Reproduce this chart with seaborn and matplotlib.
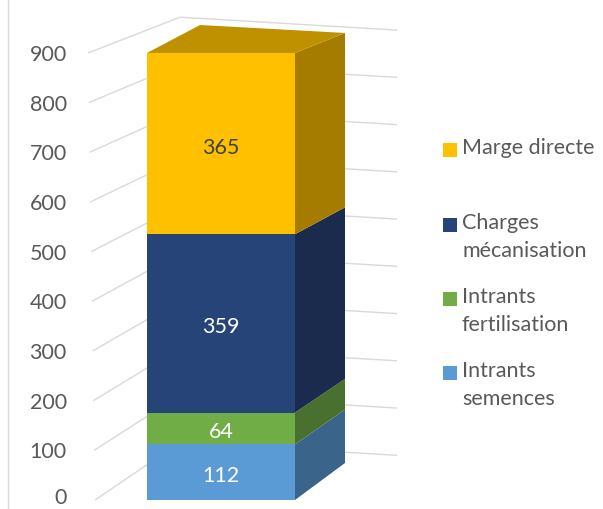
import matplotlib
matplotlib.use("Agg")
import matplotlib.pyplot as plt
import seaborn as sns
import pandas as pd
from matplotlib.patches import Polygon, Rectangle
from matplotlib.lines import Line2D
from matplotlib.transforms import ScaledTranslation

# ---- data ----
categories = ["Intrants semences", "Intrants fertilisation", "Charges mécanisation", "Marge directe"]
legend_labels = ["Intrants\nsemences", "Intrants\nfertilisation", "Charges\nmécanisation", "Marge directe"]
values = [112, 64, 359, 365]
yticks = [0, 100, 200, 300, 400, 500, 600, 700, 800, 900]

front_colors = ["#5B9BD5", "#70AD47", "#264478", "#FFC000"]
side_colors = ["#3A6489", "#4A7030", "#1A2B4D", "#A67C00"]
top_color = "#BF9000"
label_colors = ["white", "white", "white", "#404040"]

sns.set_theme(style="white")
plt.rcParams["font.family"] = ["Lato", "DejaVu Sans"]
TXT = "#595959"
FS = 15.5

W, H = 603, 509
fig = plt.figure(figsize=(W / 100, H / 100), dpi=100)
left_px = 75
ax = fig.add_axes([left_px / W, 0, 1 - left_px / W, 1])

PX_PER_UNIT_X = 185.0
CX = 221.0
def px2x(px):
    return (px - CX) / PX_PER_UNIT_X
SY = 0.4967
def py2v(py):
    return (500 - py) / SY

df = pd.DataFrame({"cat": categories, "value": values, "group": ["Coût"] * 4})
bottoms = []
b = 0
for v in values:
    bottoms.append(b)
    b += v

for i, cat in enumerate(categories):
    sub = df[df["cat"] == cat]
    sns.barplot(data=sub, x="group", y="value", bottom=bottoms[i], color=front_colors[i],
                width=0.8, saturation=1, ax=ax, zorder=3, linewidth=0, errorbar=None)

# 3D side and top faces derived from the stacked values
xf = 0.4
xb = px2x(345)
def back_v(v):
    return 74.5 + 0.962 * v
for i in range(len(values)):
    lo, hi = bottoms[i], bottoms[i] + values[i]
    poly = Polygon([(xf, lo), (xb, back_v(lo)), (xb, back_v(hi)), (xf, hi)],
                   closed=True, facecolor=side_colors[i], edgecolor="none", zorder=2.9)
    ax.add_patch(poly)
total = sum(values)
top = Polygon([(-0.4, total), (xf, total), (xb, back_v(total)), (px2x(200), py2v(25))],
              closed=True, facecolor=top_color, edgecolor="none", zorder=2.9)
ax.add_patch(top)

# data labels
for i in range(len(values)):
    ax.text(0, bottoms[i] + values[i] / 2 - 8, str(values[i]), ha="center", va="center",
            fontsize=FS, color=label_colors[i], zorder=5)

# perspective gridlines (wall lines)
for v in yticks:
    xl = px2x(95 - 7 * v / 900)
    xc = px2x(180)
    xr = px2x(397)
    vc = v + 116 - v * 44 / 900
    vr = 90 + v * 856 / 900
    ax.plot([xl, xc, xr], [v, vc, vr], color="#D9D9D9", lw=1.0, zorder=1, solid_capstyle="butt")

ax.set_xlim(px2x(left_px), px2x(W))
ax.set_ylim(py2v(H), py2v(0))
ax.set_yticks(yticks)
ax.set_yticklabels([str(t) for t in yticks], fontsize=FS, color=TXT)
ax.tick_params(axis="y", length=0, pad=6)
# keep the bottom "0" label inside the picture
lbl0 = ax.get_yticklabels()[0]
lbl0.set_transform(lbl0.get_transform() + ScaledTranslation(0, 4 / 100, fig.dpi_scale_trans))
ax.set_xticks([])
ax.set_xlabel("")
ax.set_ylabel("")
for s in ax.spines.values():
    s.set_visible(False)
ax.set_facecolor("none")

# left border line
fig.add_artist(Line2D([8 / W, 8 / W], [0, 1], color="#D9D9D9", lw=1.0))

# legend (manual, top to bottom)
leg_y = [150, 225, 299, 373]
order = [3, 2, 1, 0]
for yy, i in zip(leg_y, order):
    fig.add_artist(Rectangle((443 / W, 1 - (yy + 7) / H), 14 / W, 14 / H,
                             transform=fig.transFigure, facecolor=front_colors[i], edgecolor="none"))
    fig.text(462 / W, 1 - (yy - 12) / H, legend_labels[i], ha="left", va="top",
             fontsize=FS, color=TXT, linespacing=1.5)

fig.savefig("out.png", dpi=100)
